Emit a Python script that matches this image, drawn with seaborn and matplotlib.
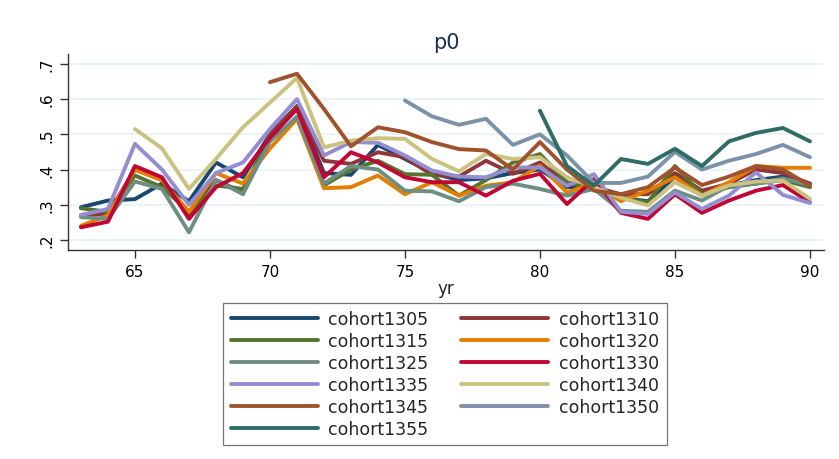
import numpy as np
import pandas as pd
import matplotlib
matplotlib.use("Agg")
import matplotlib.pyplot as plt
import seaborn as sns

nan = np.nan
years = list(range(63, 91))

cohort1305 = [.293, .312, .316, .36, .31, .42, .378, .50, .58, .39, .385, .47, .43, .39,
              .37, .375, .39, .40, .35, .345, .32, .31, .38, .33, .355, .37, .38, .36]
cohort1310 = [.27, .275, .40, .37, .27, .37, .335, .50, .58, .425, .416, .449, .435, .385,
              .38, .425, .388, .42, .36, .35, .33, .33, .39, .34, .36, .40, .39, .36]
cohort1315 = [.29, .28, .383, .35, .28, .355, .345, .49, .575, .355, .40, .425, .387, .385,
              .326, .37, .42, .444, .364, .345, .32, .307, .41, .33, .35, .36, .37, .35]
cohort1320 = [.24, .27, .40, .37, .28, .39, .36, .46, .544, .347, .35, .383, .33, .364,
              .326, .354, .364, .411, .335, .36, .31, .34, .378, .326, .364, .41, .405, .405]
cohort1325 = [.265, .26, .366, .345, .222, .37, .33, .48, .55, .36, .41, .40, .34, .338,
              .31, .35, .36, .345, .326, .345, .283, .28, .34, .312, .354, .36, .375, .356]
cohort1330 = [.236, .252, .41, .378, .26, .35, .39, .49, .572, .378, .449, .42, .378, .364,
              .364, .326, .368, .388, .302, .373, .277, .26, .33, .277, .312, .34, .356, .307]
cohort1335 = [.271, .288, .473, .40, .30, .39, .42, .515, .60, .44, .478, .476, .44, .397,
              .38, .378, .406, .406, .354, .387, .28, .274, .335, .288, .326, .392, .328, .305]
cohort1340 = [nan, nan, .515, .46, .345, .43, .52, .59, .66, .463, .482, .489, .487, .43,
              .395, .444, .43, .435, .378, .35, .32, .298, .364, .326, .355, .366, .369, .317]
cohort1345 = [nan, nan, nan, nan, nan, nan, nan, .648, .672, .572, .466, .52, .506, .478,
              .458, .454, .40, .478, .40, .34, .33, .35, .406, .356, .38, .41, .40, .354]
cohort1350 = [nan] * 12 + [.596, .551, .527, .544, .47, .50, .44, .362, .362, .38, .45,
                           .40, .425, .444, .47, .435]
cohort1355 = [nan] * 17 + [.567, .41, .354, .43, .416, .459, .41, .48, .504, .518, .48]

series = {
    "cohort1305": cohort1305, "cohort1310": cohort1310, "cohort1315": cohort1315,
    "cohort1320": cohort1320, "cohort1325": cohort1325, "cohort1330": cohort1330,
    "cohort1335": cohort1335, "cohort1340": cohort1340, "cohort1345": cohort1345,
    "cohort1350": cohort1350, "cohort1355": cohort1355,
}
colors = ["#1a476f", "#90353b", "#55752f", "#e37e00", "#6e8e84", "#c10534",
          "#938dd2", "#cac27e", "#a0522d", "#7b92a8", "#2d6d66"]

df = pd.concat(
    [pd.DataFrame({"yr": years, "p0": vals, "cohort": name}) for name, vals in series.items()],
    ignore_index=True,
).dropna()

sns.set_theme(style="white")
plt.rcParams["font.family"] = ["DejaVu Sans"]

fig = plt.figure(figsize=(8.39, 4.60), dpi=100)
ax = fig.add_axes([68 / 839, 1 - 251 / 460, (824 - 68) / 839, (251 - 55) / 460])

sns.lineplot(data=df, x="yr", y="p0", hue="cohort", hue_order=list(series.keys()),
             palette=colors, linewidth=2.8, ax=ax, legend=True, estimator=None)

ax.set_xlim(62.52, 90.52)
ax.set_ylim(0.1716, 0.728)
ax.set_xticks([65, 70, 75, 80, 85, 90])
ax.set_yticks([.2, .3, .4, .5, .6, .7])
ax.set_yticklabels([".2", ".3", ".4", ".5", ".6", ".7"], rotation=90, va="center")
ax.yaxis.grid(True, color="#eaf2f3", linewidth=1.2)
ax.set_axisbelow(True)
for s in ["top", "right"]:
    ax.spines[s].set_visible(False)
for s in ["left", "bottom"]:
    ax.spines[s].set_color("#333333")
    ax.spines[s].set_linewidth(1.0)
ax.tick_params(axis="both", which="major", direction="out", length=6, width=1,
               color="#333333", labelsize=11, labelcolor="black", pad=4,
               left=True, bottom=True)
ax.set_xlabel("yr", fontsize=12, labelpad=0)
ax.set_ylabel("")
ax.set_title("p0", fontsize=15, color="#1e2d53", pad=4)

handles, labels = ax.get_legend_handles_labels()
ax.get_legend().remove()
order = [0, 2, 4, 6, 8, 10, 1, 3, 5, 7, 9]
leg = fig.legend([handles[i] for i in order], [labels[i] for i in order],
                 loc="upper center", bbox_to_anchor=(445 / 839, 1 - 295 / 460),
                 ncol=2, fontsize=12.5, frameon=True, fancybox=False,
                 handlelength=5.0, handletextpad=0.6, columnspacing=1.9,
                 labelspacing=0.22, borderpad=0.45, edgecolor="#555555")
leg.get_frame().set_linewidth(0.9)
for line in leg.get_lines():
    line.set_linewidth(2.8)

fig.savefig("out.png", dpi=100, facecolor="white")
